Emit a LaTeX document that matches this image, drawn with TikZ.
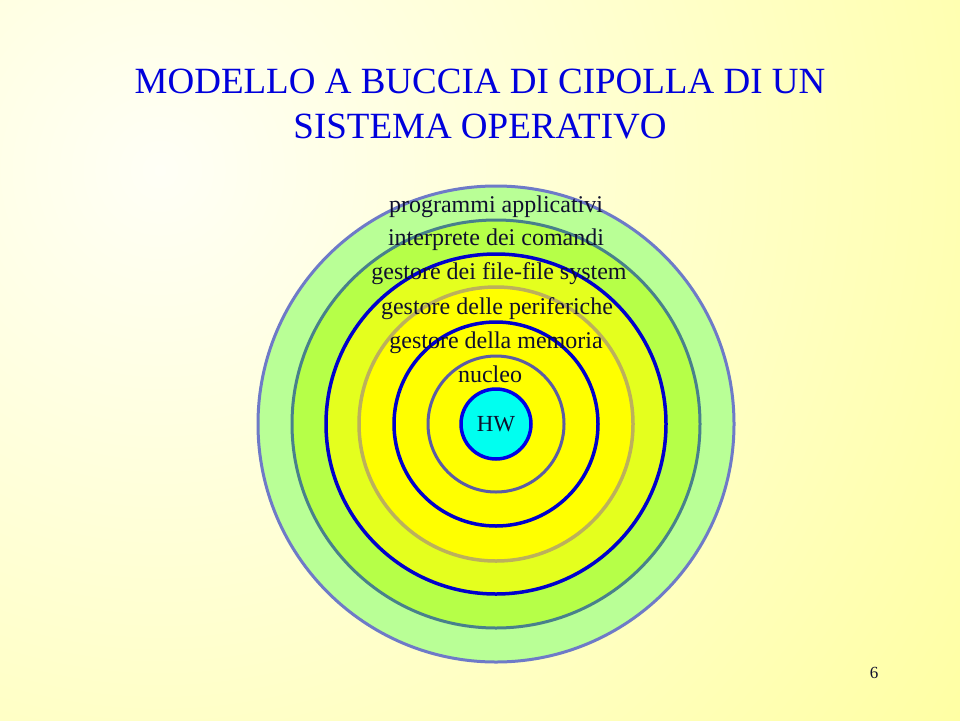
\documentclass[tikz,border=0pt]{standalone}
\usepackage{fontspec}
\setmainfont{Liberation Serif}
\usepackage{xcolor}
\usepackage{tikz}
\usetikzlibrary{
  positioning,
}

\definecolor{bgpale}{RGB}{255,255,246}
\definecolor{bgyellow}{RGB}{255,255,153}
\definecolor{titleblue}{RGB}{0,0,220}
\definecolor{inkdark}{RGB}{15,15,45}
\definecolor{peelA}{RGB}{185,255,150}
\definecolor{peelB}{RGB}{182,255,72}
\definecolor{peelC}{RGB}{228,255,30}
\definecolor{peelD}{RGB}{255,255,0}
\definecolor{edgeA}{RGB}{110,122,200}
\definecolor{edgeB}{RGB}{72,128,140}
\definecolor{edgeC}{RGB}{0,0,205}
\definecolor{edgeD}{RGB}{188,176,92}
\definecolor{edgeF}{RGB}{92,92,165}
\definecolor{hwcyan}{RGB}{0,255,240}
\definecolor{hwblue}{RGB}{0,0,230}

\begin{document}
\begin{tikzpicture}[
  x=1pt, y=-1pt,
  peel/.style={circle, inner sep=0pt, line width=3pt},
  layer/.style={anchor=base, text=inkdark, font=\fontsize{24}{28}\selectfont},
  titleline/.style={anchor=base, text=titleblue, font=\fontsize{37}{44}\selectfont},
]

\useasboundingbox (0,0) rectangle (960,720);

%% background
\begin{scope}
  \clip (0,0) rectangle (960,720);
  \shade[inner color=bgpale, outer color=bgyellow] (160,170) circle (1100pt);
\end{scope}

%% title
\node[titleline] (title1) at (480,93) {MODELLO A BUCCIA DI CIPOLLA DI UN};
\node[titleline] (title2) at (480,138) {SISTEMA OPERATIVO};

%% onion layers, outside in
\node[peel, fill=peelA, draw=edgeA, minimum size=476pt] (applic) at (496,424) {};
\node[peel, fill=peelB, draw=edgeB, minimum size=408pt] (shell)  at (applic.center) {};
\node[peel, fill=peelC, draw=edgeC, line width=3.5pt, minimum size=340pt] (files) at (applic.center) {};
\node[peel, fill=peelD, draw=edgeD, line width=3.5pt, minimum size=274pt] (devices) at (applic.center) {};
\node[peel, fill=peelD, draw=edgeC, line width=3.5pt, minimum size=204pt] (memory) at (applic.center) {};
\node[peel, fill=peelD, draw=edgeF, minimum size=136pt] (kernel) at (applic.center) {};
\node[peel, fill=hwcyan, draw=hwblue, line width=3.5pt, minimum size=70pt,
      text=inkdark, font=\fontsize{23}{26}\selectfont] (hw) at (applic.center) {HW};

%% layer names
\node[layer] (applictext)  at (496,212) {programmi applicativi};
\node[layer] (shelltext)   at (496,245) {interprete dei comandi};
\node[layer] (filestext)   at (499,279) {gestore dei file-file system};
\node[layer] (devicestext) at (497,314) {gestore delle periferiche};
\node[layer] (memorytext)  at (496,348) {gestore della memoria};
\node[layer] (kerneltext)  at (490,382) {nucleo};

%% slide number
\node[anchor=base, text=inkdark, font=\fontsize{17}{20}\selectfont] (pagenum) at (874,678) {6};

\end{tikzpicture}
\end{document}
